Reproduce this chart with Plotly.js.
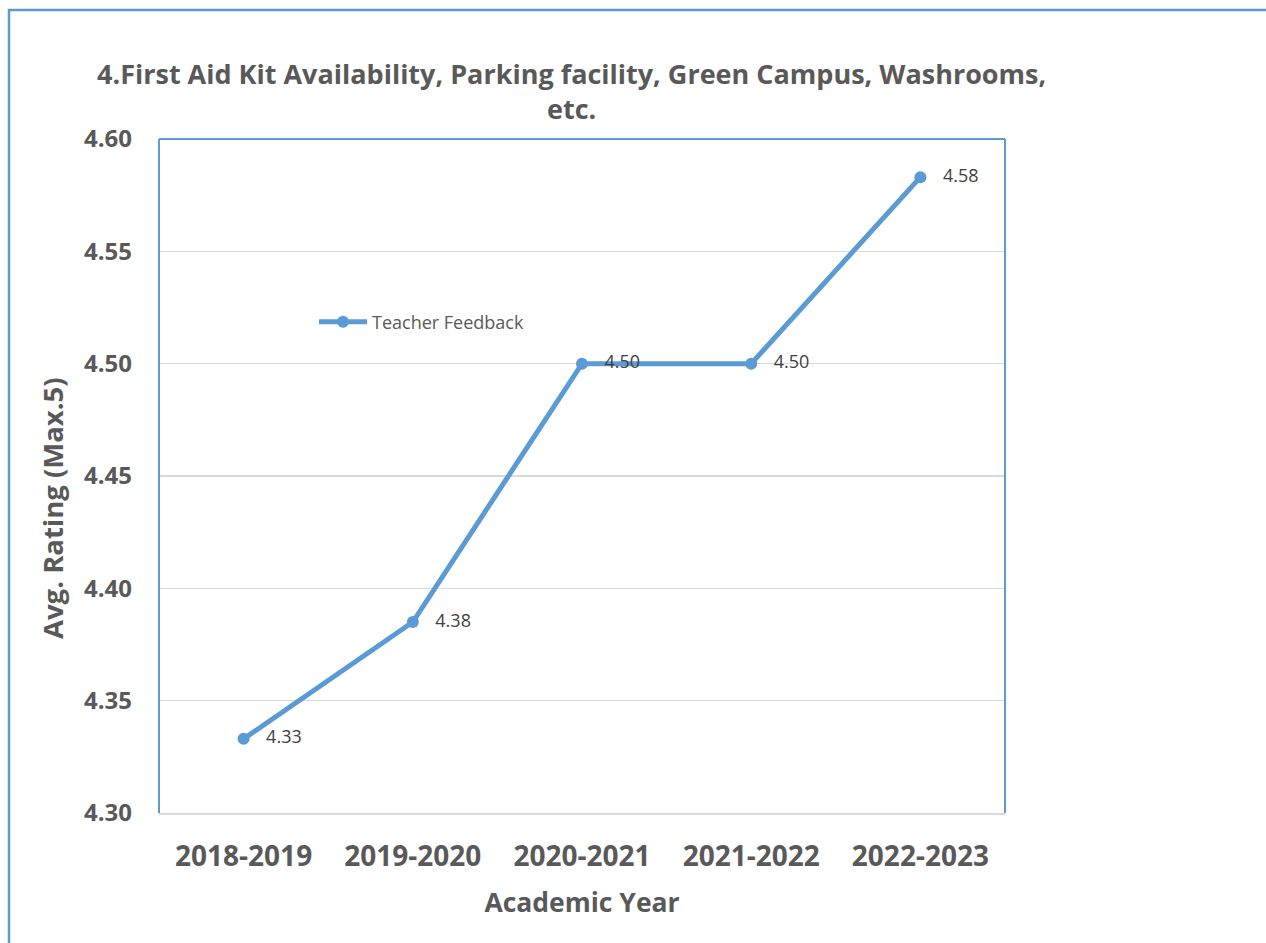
<!DOCTYPE html>
<html>
<head>
<meta charset="utf-8">
<script src="https://cdn.plot.ly/plotly-3.0.1.min.js"></script>
<style>
  html, body { margin: 0; padding: 0; background: #ffffff; }
  #chart { width: 1266px; height: 943px; }
</style>
</head>
<body>
<div id="chart"></div>
<script>
const years = ["2018-2019", "2019-2020", "2020-2021", "2021-2022", "2022-2023"];
const teacherFeedback = [4.333, 4.385, 4.50, 4.50, 4.583];
const yTickValues = [4.30, 4.35, 4.40, 4.45, 4.50, 4.55, 4.60];
const yTickLabels = ["4.30", "4.35", "4.40", "4.45", "4.50", "4.55", "4.60"];

const blue = "#5B9BD5";
const gray = "#595959";
const font = "Open Sans, Noto Sans, sans-serif";

const trace = {
  x: years,
  y: teacherFeedback,
  type: "scatter",
  mode: "lines+markers+text",
  name: "Teacher Feedback",
  line: { color: blue, width: 5 },
  marker: { color: blue, size: 12 },
  texttemplate: "&nbsp;&nbsp;&nbsp;%{y:.2f}",
  textposition: "middle right",
  textfont: { family: font, size: 18, color: "#404040" },
  cliponaxis: false,
  hoverinfo: "x+y"
};

const W = 1266, H = 943;
const L = 159, R = 261, T = 139, B = 130;
const pw = W - L - R, ph = H - T - B;
const px = v => (v - L) / pw;
const py = v => 1 - (v - T) / ph;

const layout = {
  width: W, height: H,
  margin: { l: L, r: R, t: T, b: B, pad: 0 },
  paper_bgcolor: "#ffffff",
  plot_bgcolor: "#ffffff",
  font: { family: font, color: gray },
  xaxis: {
    type: "category",
    range: [-0.5, 4.5],
    showgrid: false,
    showline: true, linecolor: "#d9d9d9", linewidth: 2,
    ticks: "", ticklabelstandoff: 17,
    tickfont: { family: font, size: 28, color: gray, weight: "bold" },
    title: { text: "<b>Academic Year</b>", font: { family: font, size: 26.5, color: gray }, standoff: 21 },
    zeroline: false, fixedrange: true
  },
  yaxis: {
    range: [4.30, 4.60],
    tickvals: yTickValues, ticktext: yTickLabels,
    showgrid: true, gridcolor: "#d9d9d9", gridwidth: 1.5,
    showline: false,
    ticks: "", ticklabelstandoff: 26,
    tickfont: { family: font, size: 24, color: gray, weight: "bold" },
    zeroline: false, fixedrange: true
  },
  showlegend: true,
  legend: {
    x: px(314), y: py(322), xanchor: "left", yanchor: "middle",
    bgcolor: "rgba(0,0,0,0)", borderwidth: 0,
    font: { family: font, size: 18, color: gray },
    itemwidth: 48
  },
  annotations: [
    {
      text: "<b>4.First Aid Kit Availability, Parking facility, Green Campus, Washrooms,<br>etc.</b>",
      xref: "paper", yref: "paper", x: px(571), y: py(91),
      xanchor: "center", yanchor: "middle", showarrow: false,
      font: { family: font, size: 27, color: gray }
    },
    {
      text: "<b>Avg. Rating (Max.5)</b>",
      xref: "paper", yref: "paper", x: px(52), y: py(508),
      xanchor: "center", yanchor: "middle", showarrow: false, textangle: -90,
      font: { family: font, size: 27.5, color: gray }
    }
  ],
  shapes: [
    { type: "line", xref: "paper", yref: "paper", x0: 0, x1: 0, y0: 0, y1: 1, line: { color: blue, width: 2 } },
    { type: "line", xref: "paper", yref: "paper", x0: 1, x1: 1, y0: 0, y1: 1, line: { color: blue, width: 2 } },
    { type: "line", xref: "paper", yref: "paper", x0: 0, x1: 1, y0: 1, y1: 1, line: { color: blue, width: 2 } },
    { type: "rect", xref: "paper", yref: "paper", x0: px(9), x1: px(1290), y0: py(10), y1: py(980), line: { color: blue, width: 2.5 }, fillcolor: "rgba(0,0,0,0)" }
  ]
};

Plotly.newPlot("chart", [trace], layout, { displayModeBar: false, staticPlot: true });
</script>
</body>
</html>
